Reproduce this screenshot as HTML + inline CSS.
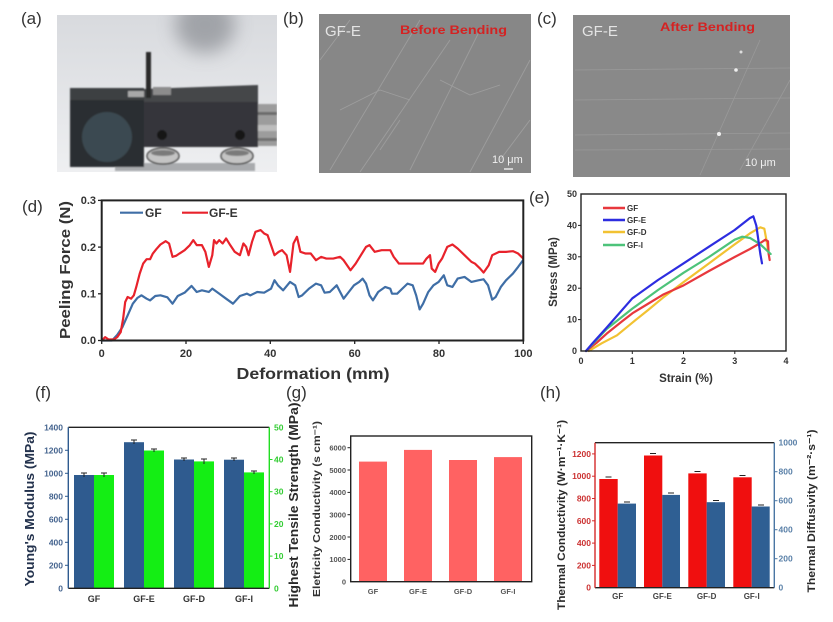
<!DOCTYPE html>
<html><head><meta charset="utf-8"><style>
html,body{margin:0;padding:0;background:#fff;}
svg{display:block;}
text{font-family:"Liberation Sans",Arial,sans-serif;}
</style></head><body>
<svg width="833" height="622" viewBox="0 0 833 622" xmlns="http://www.w3.org/2000/svg">
<defs>
<linearGradient id="bgA" x1="0" y1="0" x2="0" y2="1"><stop offset="0" stop-color="#d8dade"/><stop offset="1" stop-color="#eeeff1"/></linearGradient>
<filter id="b1" x="-20%" y="-20%" width="140%" height="140%"><feGaussianBlur stdDeviation="0.8"/></filter>
<filter id="b8" x="-50%" y="-50%" width="200%" height="200%"><feGaussianBlur stdDeviation="9"/></filter>
<clipPath id="cpA"><rect x="57" y="15" width="220" height="157"/></clipPath>
<clipPath id="cpB"><rect x="319" y="14" width="212" height="159"/></clipPath>
<clipPath id="cpC"><rect x="573" y="15" width="217" height="162"/></clipPath>
</defs>

<!-- (a) photo -->
<text x="21" y="24" font-size="17" fill="#333">(a)</text>
<g clip-path="url(#cpA)">
<rect x="57" y="15" width="220" height="157" fill="url(#bgA)"/>
<ellipse cx="205" cy="25" rx="30" ry="28" fill="#8e9196" opacity="0.75" filter="url(#b8)"/>
<g filter="url(#b1)">
<rect x="115" y="163" width="140" height="8" fill="#a9abae"/>
<rect x="258" y="104" width="19" height="42" fill="#9c9c9c"/>
<rect x="258" y="112" width="19" height="3" fill="#6a6a6a"/>
<rect x="258" y="125" width="19" height="6" fill="#bdbdbd"/>
<rect x="258" y="138" width="19" height="3" fill="#707070"/>
<ellipse cx="163" cy="156" rx="16" ry="8" fill="#c4c4c4" stroke="#4a4a4a" stroke-width="1.5"/>
<ellipse cx="163" cy="153" rx="12" ry="3" fill="#7a7a7a"/>
<ellipse cx="237" cy="156" rx="16" ry="8" fill="#c4c4c4" stroke="#4a4a4a" stroke-width="1.5"/>
<ellipse cx="237" cy="153" rx="12" ry="3" fill="#7a7a7a"/>
<polygon points="143,89 258,85 258,102 143,102" fill="#45474a"/>
<rect x="143" y="102" width="115" height="45" fill="#34363a"/>
<rect x="70" y="88" width="74" height="13" fill="#3e4043"/>
<rect x="70" y="100" width="74" height="67" fill="#2c2e31"/>
<circle cx="107" cy="137" r="25" fill="#3b4951"/>
<circle cx="162" cy="135" r="5" fill="#121212"/>
<circle cx="240" cy="135" r="5" fill="#121212"/>
<rect x="146" y="52" width="5" height="46" fill="#2a2a2a"/>
<rect x="128" y="91" width="16" height="6" fill="#a8a8a8"/>
<rect x="153" y="87" width="18" height="8" fill="#8c8c8c"/>
</g>
</g>

<!-- (b) SEM -->
<text x="283" y="24" font-size="17" fill="#333">(b)</text>
<g clip-path="url(#cpB)">
<rect x="319" y="14" width="212" height="159" fill="#878787"/>
<g stroke="#b0b0b0" stroke-width="0.9" opacity="0.55" fill="none">
<path d="M330,170 L420,20"/><path d="M360,172 L450,40"/><path d="M410,170 L480,30"/>
<path d="M470,172 L530,60"/><path d="M320,60 L350,20"/><path d="M340,110 L380,90 L410,100"/>
<path d="M440,80 L470,95 L500,85"/><path d="M380,150 L400,120"/><path d="M500,160 L530,120"/>
</g>
</g>
<text x="325" y="36" font-size="15" fill="#e4e4e4">GF-E</text>
<text x="400" y="34" font-size="12" font-weight="bold" fill="#d42222" textLength="107" lengthAdjust="spacingAndGlyphs">Before Bending</text>
<text x="492" y="163" font-size="11" fill="#f0f0f0">10 μm</text>
<line x1="504" y1="169" x2="513" y2="169" stroke="#fff" stroke-width="1.2"/>

<!-- (c) SEM -->
<text x="537" y="24" font-size="17" fill="#333">(c)</text>
<g clip-path="url(#cpC)">
<rect x="573" y="15" width="217" height="162" fill="#898989"/>
<g stroke="#a9a9a9" stroke-width="0.8" opacity="0.5" fill="none">
<path d="M575,70 L790,68"/><path d="M575,100 L790,98"/><path d="M575,135 L790,133"/>
<path d="M575,150 L790,149"/><path d="M700,175 L760,40"/><path d="M740,170 L790,80"/>
</g>
<circle cx="736" cy="70" r="1.8" fill="#eee"/><circle cx="719" cy="134" r="2" fill="#eee"/>
<circle cx="741" cy="52" r="1.5" fill="#ddd"/>
</g>
<text x="582" y="36" font-size="15" fill="#e4e4e4">GF-E</text>
<text x="660" y="31" font-size="12" font-weight="bold" fill="#d42222" textLength="95" lengthAdjust="spacingAndGlyphs">After Bending</text>
<text x="745" y="166" font-size="11" fill="#f0f0f0">10 μm</text>

<!-- (d) peeling chart -->
<text x="22" y="212" font-size="17" fill="#333">(d)</text>
<g font-weight="bold" fill="#333" font-size="11">
<text x="96" y="344" text-anchor="end">0.0</text>
<text x="96" y="297.5" text-anchor="end">0.1</text>
<text x="96" y="251" text-anchor="end">0.2</text>
<text x="96" y="204" text-anchor="end">0.3</text>
<text x="101.7" y="357" text-anchor="middle">0</text>
<text x="186" y="357" text-anchor="middle">20</text>
<text x="270.3" y="357" text-anchor="middle">40</text>
<text x="354.7" y="357" text-anchor="middle">60</text>
<text x="439" y="357" text-anchor="middle">80</text>
<text x="523.3" y="357" text-anchor="middle">100</text>
</g>
<text x="313" y="379" font-size="16" font-weight="bold" fill="#333" text-anchor="middle" textLength="153" lengthAdjust="spacingAndGlyphs">Deformation (mm)</text>
<text transform="translate(70,270) rotate(-90)" font-size="15" font-weight="bold" fill="#333" text-anchor="middle" textLength="138" lengthAdjust="spacingAndGlyphs">Peeling Force (N)</text>
<g stroke="#222" stroke-width="1.3">
<line x1="101.7" y1="340.5" x2="101.7" y2="344"/><line x1="186" y1="340.5" x2="186" y2="344"/>
<line x1="270.3" y1="340.5" x2="270.3" y2="344"/><line x1="354.7" y1="340.5" x2="354.7" y2="344"/>
<line x1="439" y1="340.5" x2="439" y2="344"/><line x1="523.3" y1="340.5" x2="523.3" y2="344"/>
<line x1="98" y1="340.5" x2="101.7" y2="340.5"/><line x1="98" y1="293.8" x2="101.7" y2="293.8"/>
<line x1="98" y1="247.1" x2="101.7" y2="247.1"/><line x1="98" y1="200.4" x2="101.7" y2="200.4"/>
</g>
<g transform="matrix(0.34557 0 0 0.3345 -1.97 184.95)" fill="none" stroke-linejoin="round">
<polyline vector-effect="non-scaling-stroke" stroke="#3f6ea6" stroke-width="2.2" points="300,465 330,465 345,448 360,425 375,390 390,355 403,338 415,330 430,340 440,345 455,332 470,330 490,336 505,355 520,332 540,322 560,302 575,320 590,315 610,320 620,310 640,325 660,340 680,355 700,332 720,325 730,330 750,320 770,322 790,310 800,285 810,300 825,315 845,290 860,300 870,335 880,330 900,310 920,295 935,300 945,322 960,320 980,300 990,320 1000,340 1015,320 1030,300 1045,290 1055,280 1065,295 1075,330 1085,345 1100,320 1120,305 1135,310 1140,325 1155,325 1170,310 1185,295 1200,300 1210,330 1220,372 1230,355 1245,320 1260,300 1275,290 1290,270 1300,300 1315,305 1330,280 1350,275 1370,290 1390,285 1405,282 1418,300 1430,343 1440,335 1455,305 1470,285 1490,265 1505,245 1520,224"/>
<polyline vector-effect="non-scaling-stroke" stroke="#e8222b" stroke-width="2.2" points="300,465 310,455 320,462 335,462 345,455 355,440 362,400 368,350 375,335 385,340 393,330 400,305 410,265 420,235 430,222 440,222 448,205 458,192 470,178 485,168 495,175 505,215 515,212 525,205 540,195 555,180 565,165 575,180 590,180 600,200 610,245 620,210 625,165 632,175 640,165 650,175 660,160 672,180 685,200 700,210 710,175 718,185 725,210 735,170 745,140 760,135 770,145 780,150 790,180 800,210 812,200 822,195 835,210 845,260 855,175 865,155 875,200 890,205 905,205 920,225 935,215 950,220 970,220 990,215 1000,225 1020,255 1035,235 1050,210 1065,185 1075,180 1090,200 1110,195 1125,195 1135,195 1145,215 1160,235 1190,235 1230,235 1240,220 1250,210 1255,250 1265,260 1275,235 1285,220 1300,185 1315,178 1330,190 1350,210 1370,230 1380,235 1395,250 1405,262 1420,240 1430,210 1450,200 1470,200 1490,198 1505,205 1520,220"/>
</g>
<rect x="101.7" y="200.4" width="421.6" height="140.1" fill="none" stroke="#222" stroke-width="2"/>
<line x1="120" y1="212.7" x2="143" y2="212.7" stroke="#3f6ea6" stroke-width="2.2"/>
<text x="145" y="217" font-size="12" font-weight="bold" fill="#333">GF</text>
<line x1="182" y1="212.7" x2="208" y2="212.7" stroke="#e8222b" stroke-width="2.2"/>
<text x="209" y="217" font-size="12" font-weight="bold" fill="#333">GF-E</text>

<!-- (e) stress-strain -->
<text x="529" y="203" font-size="17" fill="#333">(e)</text>
<g font-weight="bold" fill="#333" font-size="9">
<text x="577" y="354" text-anchor="end">0</text>
<text x="577" y="322.6" text-anchor="end">10</text>
<text x="577" y="291.2" text-anchor="end">20</text>
<text x="577" y="259.8" text-anchor="end">30</text>
<text x="577" y="228.4" text-anchor="end">40</text>
<text x="577" y="197" text-anchor="end">50</text>
<text x="581" y="364" text-anchor="middle">0</text>
<text x="632.3" y="364" text-anchor="middle">1</text>
<text x="683.5" y="364" text-anchor="middle">2</text>
<text x="734.8" y="364" text-anchor="middle">3</text>
<text x="786" y="364" text-anchor="middle">4</text>
</g>
<text x="686" y="382" font-size="11.5" font-weight="bold" fill="#333" text-anchor="middle">Strain (%)</text>
<text transform="translate(557,272) rotate(-90)" font-size="11.5" font-weight="bold" fill="#333" text-anchor="middle">Stress (MPa)</text>
<g stroke="#222" stroke-width="1">
<line x1="632.3" y1="351" x2="632.3" y2="354"/><line x1="683.5" y1="351" x2="683.5" y2="354"/><line x1="734.8" y1="351" x2="734.8" y2="354"/>
<line x1="578" y1="319.6" x2="581" y2="319.6"/><line x1="578" y1="288.2" x2="581" y2="288.2"/><line x1="578" y1="256.8" x2="581" y2="256.8"/><line x1="578" y1="225.4" x2="581" y2="225.4"/>
</g>
<g transform="translate(540,180) scale(0.33333)" fill="none" stroke-linejoin="round" stroke-linecap="round">
<polyline vector-effect="non-scaling-stroke" stroke="#f2c232" stroke-width="2.2" points="146,513 185,490 231,466 277,428 323,391 369,353 431,306 507,250 584,193 630,160 661,142 673,146 680,184 686,222"/>
<polyline vector-effect="non-scaling-stroke" stroke="#e8383d" stroke-width="2.2" points="138,513 169,489 200,461 246,424 277,400 323,372 369,344 431,316 507,273 584,231 630,207 661,189 676,179 684,184 686,222 689,240"/>
<polyline vector-effect="non-scaling-stroke" stroke="#4dc37a" stroke-width="2.2" points="138,513 200,447 277,386 354,330 431,278 507,231 584,179 607,170 630,174 661,193 692,222"/>
<polyline vector-effect="non-scaling-stroke" stroke="#2d2de0" stroke-width="2.2" points="138,513 154,494 200,443 277,355 354,300 431,250 507,200 584,150 630,114 640,109 649,137 661,222 666,250"/>
</g>
<rect x="581" y="194" width="205" height="157" fill="none" stroke="#222" stroke-width="1.4"/>
<g stroke-width="2.5">
<line x1="603" y1="208" x2="625" y2="208" stroke="#e8383d"/>
<line x1="603" y1="220" x2="625" y2="220" stroke="#2d2de0"/>
<line x1="603" y1="232" x2="625" y2="232" stroke="#f2c232"/>
<line x1="603" y1="245" x2="625" y2="245" stroke="#4dc37a"/>
</g>
<g font-size="8" font-weight="bold" fill="#333">
<text x="627" y="211">GF</text><text x="627" y="223">GF-E</text><text x="627" y="235">GF-D</text><text x="627" y="248">GF-I</text>
</g>

<!-- (f) -->
<text x="35" y="398" font-size="17" fill="#333">(f)</text>
<g fill="#2f5b8f">
<rect x="74" y="475" width="20" height="113.3"/><rect x="124" y="442.2" width="20" height="146.1"/>
<rect x="174" y="459.5" width="20" height="128.8"/><rect x="224" y="459.7" width="20" height="128.6"/>
</g>
<g fill="#14ee14">
<rect x="94" y="475" width="20" height="113.3"/><rect x="144" y="450.5" width="20" height="137.8"/>
<rect x="194" y="461.4" width="20" height="126.9"/><rect x="244" y="472.4" width="20" height="115.9"/>
</g>
<g stroke="#222" stroke-width="1">
<line x1="84" y1="473" x2="84" y2="477"/><line x1="81" y1="473" x2="87" y2="473"/>
<line x1="104" y1="473" x2="104" y2="477"/><line x1="101" y1="473" x2="107" y2="473"/>
<line x1="134" y1="440" x2="134" y2="444"/><line x1="131" y1="440" x2="137" y2="440"/>
<line x1="154" y1="449" x2="154" y2="452"/><line x1="151" y1="449" x2="157" y2="449"/>
<line x1="184" y1="458" x2="184" y2="461"/><line x1="181" y1="458" x2="187" y2="458"/>
<line x1="204" y1="459" x2="204" y2="464"/><line x1="201" y1="459" x2="207" y2="459"/>
<line x1="234" y1="458" x2="234" y2="461"/><line x1="231" y1="458" x2="237" y2="458"/>
<line x1="254" y1="471" x2="254" y2="474"/><line x1="251" y1="471" x2="257" y2="471"/>
</g>
<line x1="68.3" y1="427.3" x2="269.3" y2="427.3" stroke="#222" stroke-width="1.4"/>
<line x1="68.3" y1="588.3" x2="269.3" y2="588.3" stroke="#222" stroke-width="1.4"/>
<line x1="68.3" y1="427.3" x2="68.3" y2="588.3" stroke="#2f5b8f" stroke-width="1.4"/>
<line x1="269.3" y1="427.3" x2="269.3" y2="588.3" stroke="#22dd22" stroke-width="1.4"/>
<g stroke="#2f5b8f" stroke-width="1">
<line x1="65" y1="565.3" x2="68.3" y2="565.3"/><line x1="65" y1="542.3" x2="68.3" y2="542.3"/><line x1="65" y1="519.3" x2="68.3" y2="519.3"/>
<line x1="65" y1="496.3" x2="68.3" y2="496.3"/><line x1="65" y1="473.3" x2="68.3" y2="473.3"/><line x1="65" y1="450.3" x2="68.3" y2="450.3"/>
</g>
<g stroke="#22dd22" stroke-width="1">
<line x1="269.3" y1="556.1" x2="272.5" y2="556.1"/><line x1="269.3" y1="523.9" x2="272.5" y2="523.9"/>
<line x1="269.3" y1="491.7" x2="272.5" y2="491.7"/><line x1="269.3" y1="459.5" x2="272.5" y2="459.5"/>
</g>
<g font-size="8.5" font-weight="bold" fill="#45648f" text-anchor="end">
<text x="63" y="591.3">0</text><text x="63" y="568.3">200</text><text x="63" y="545.3">400</text><text x="63" y="522.3">600</text>
<text x="63" y="499.3">800</text><text x="63" y="476.3">1000</text><text x="63" y="453.3">1200</text><text x="63" y="430.3">1400</text>
</g>
<g font-size="8.5" font-weight="bold" fill="#33cc33">
<text x="274" y="591.3">0</text><text x="274" y="559.1">10</text><text x="274" y="526.9">20</text>
<text x="274" y="494.7">30</text><text x="274" y="462.5">40</text><text x="274" y="430.3">50</text>
</g>
<g font-size="9" font-weight="bold" fill="#333" text-anchor="middle">
<text x="94" y="602">GF</text><text x="144" y="602">GF-E</text><text x="194" y="602">GF-D</text><text x="244" y="602">GF-I</text>
</g>
<text transform="translate(34,509) rotate(-90)" font-size="13" font-weight="bold" fill="#23324d" text-anchor="middle" textLength="155" lengthAdjust="spacingAndGlyphs">Young's Modulus (MPa)</text>
<text transform="translate(298,505) rotate(-90)" font-size="13" font-weight="bold" fill="#2a2a2a" text-anchor="middle" textLength="205" lengthAdjust="spacingAndGlyphs">Highest Tensile Strength (MPa)</text>

<!-- (g) -->
<text x="286" y="398" font-size="17" fill="#333">(g)</text>
<g fill="#ff6262">
<rect x="359" y="461.6" width="28" height="120.1"/><rect x="404" y="449.9" width="28" height="131.8"/>
<rect x="449" y="460" width="28" height="121.7"/><rect x="494" y="457.1" width="28" height="124.6"/>
</g>
<rect x="350.7" y="436" width="181" height="145.7" fill="none" stroke="#222" stroke-width="1.4"/>
<g stroke="#222" stroke-width="1">
<line x1="347.5" y1="559.4" x2="350.7" y2="559.4"/><line x1="347.5" y1="537" x2="350.7" y2="537"/><line x1="347.5" y1="514.7" x2="350.7" y2="514.7"/>
<line x1="347.5" y1="492.4" x2="350.7" y2="492.4"/><line x1="347.5" y1="470" x2="350.7" y2="470"/><line x1="347.5" y1="447.7" x2="350.7" y2="447.7"/>
</g>
<g font-size="7.5" font-weight="bold" fill="#555" text-anchor="end">
<text x="346" y="584.5">0</text><text x="346" y="562.2">1000</text><text x="346" y="539.8">2000</text><text x="346" y="517.5">3000</text>
<text x="346" y="495.2">4000</text><text x="346" y="472.8">5000</text><text x="346" y="450.5">6000</text>
</g>
<g font-size="7.5" font-weight="bold" fill="#555" text-anchor="middle">
<text x="373" y="594">GF</text><text x="418" y="594">GF-E</text><text x="463" y="594">GF-D</text><text x="508" y="594">GF-I</text>
</g>
<text transform="translate(320,509) rotate(-90)" font-size="10" font-weight="bold" fill="#333" text-anchor="middle" textLength="176" lengthAdjust="spacingAndGlyphs">Eletricity Conductivity (s cm⁻¹)</text>

<!-- (h) -->
<text x="540" y="398" font-size="17" fill="#333">(h)</text>
<g fill="#f00f0f">
<rect x="599.3" y="479" width="18.4" height="108.7"/><rect x="644" y="455.5" width="18.3" height="132.2"/>
<rect x="688.3" y="473.4" width="18.4" height="114.3"/><rect x="733.3" y="477.3" width="18.4" height="110.4"/>
</g>
<g fill="#2f5f93">
<rect x="617.7" y="503.6" width="18.3" height="84.1"/><rect x="662.3" y="494.9" width="17.7" height="92.8"/>
<rect x="706.7" y="502.2" width="18.3" height="85.5"/><rect x="751.7" y="506.5" width="18" height="81.2"/>
</g>
<g stroke="#222" stroke-width="1">
<line x1="605.5" y1="477" x2="611.5" y2="477"/><line x1="624" y1="502" x2="630" y2="502"/>
<line x1="650" y1="453.5" x2="656" y2="453.5"/><line x1="668" y1="493" x2="674" y2="493"/>
<line x1="694.5" y1="471.5" x2="700.5" y2="471.5"/><line x1="713" y1="500.5" x2="719" y2="500.5"/>
<line x1="739.5" y1="475.5" x2="745.5" y2="475.5"/><line x1="758" y1="505" x2="764" y2="505"/>
</g>
<line x1="595" y1="442.7" x2="774.3" y2="442.7" stroke="#222" stroke-width="1.4"/>
<line x1="595" y1="587.7" x2="774.3" y2="587.7" stroke="#222" stroke-width="1.4"/>
<line x1="595" y1="442.7" x2="595" y2="587.7" stroke="#d42a2a" stroke-width="1.4"/>
<line x1="774.3" y1="442.7" x2="774.3" y2="587.7" stroke="#4a76a4" stroke-width="1.4"/>
<g stroke="#d42a2a" stroke-width="1">
<line x1="592" y1="565.4" x2="595" y2="565.4"/><line x1="592" y1="543.1" x2="595" y2="543.1"/><line x1="592" y1="520.8" x2="595" y2="520.8"/>
<line x1="592" y1="498.5" x2="595" y2="498.5"/><line x1="592" y1="476.2" x2="595" y2="476.2"/><line x1="592" y1="453.9" x2="595" y2="453.9"/>
</g>
<g stroke="#4a76a4" stroke-width="1">
<line x1="774.3" y1="558.7" x2="777.5" y2="558.7"/><line x1="774.3" y1="529.7" x2="777.5" y2="529.7"/>
<line x1="774.3" y1="500.7" x2="777.5" y2="500.7"/><line x1="774.3" y1="471.7" x2="777.5" y2="471.7"/>
</g>
<g font-size="8.5" font-weight="bold" fill="#cc3333" text-anchor="end">
<text x="591" y="590.7">0</text><text x="591" y="568.4">200</text><text x="591" y="546.1">400</text><text x="591" y="523.8">600</text>
<text x="591" y="501.5">800</text><text x="591" y="479.2">1000</text><text x="591" y="456.9">1200</text>
</g>
<g font-size="8.5" font-weight="bold" fill="#5a80a8">
<text x="778.5" y="590.7">0</text><text x="778.5" y="561.7">200</text><text x="778.5" y="532.7">400</text>
<text x="778.5" y="503.7">600</text><text x="778.5" y="474.7">800</text><text x="778.5" y="445.7">1000</text>
</g>
<g font-size="8" font-weight="bold" fill="#444" text-anchor="middle">
<text x="617.7" y="599">GF</text><text x="662.3" y="599">GF-E</text><text x="706.7" y="599">GF-D</text><text x="751.7" y="599">GF-I</text>
</g>
<text transform="translate(565,515) rotate(-90)" font-size="11" font-weight="bold" fill="#2a2a2a" text-anchor="middle" textLength="190" lengthAdjust="spacingAndGlyphs">Thermal Conductivity (W·m⁻¹·K⁻¹)</text>
<text transform="translate(815,511) rotate(-90)" font-size="11" font-weight="bold" fill="#2a2a2a" text-anchor="middle" textLength="163" lengthAdjust="spacingAndGlyphs">Thermal Diffusivity (m⁻²·s⁻¹)</text>
</svg>
</body></html>
